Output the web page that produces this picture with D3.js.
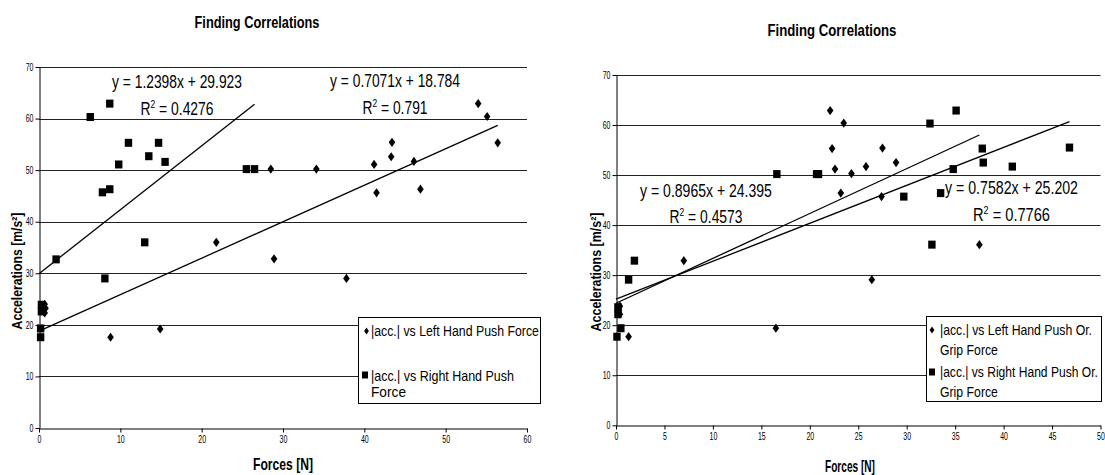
<!DOCTYPE html>
<html><head><meta charset="utf-8">
<script src="https://cdn.jsdelivr.net/npm/d3@7"></script>
<style>
body{margin:0;background:#fff}
text{font-family:"Liberation Sans",Arial,sans-serif;fill:#000}
</style>
</head><body>
<svg id="c" width="1105" height="475"></svg>
<script>
// ---------- data ----------
const chartTitle = "Finding Correlations";
const xAxisTitle = "Forces [N]";
const yAxisTitle = "Accelerations [m/s²]";
const yTicks = [0,10,20,30,40,50,60,70];
const c1XTicks = [0,10,20,30,40,50,60];
const c2XTicks = [0,5,10,15,20,25,30,35,40,45,50];

// chart 1: left hand (diamonds), right hand (squares)
const c1LeftF  = [28.5,34.1,28.9,21.8,37.8,41.2,41.5,43.4,43.3,46.1,46.9,54.0,55.1,56.4,8.8,14.9,0.7,0.8,0.7,0.5];
const c1LeftA  = [50.2,50.2,32.8,36.0,29.0,51.1,45.6,55.4,52.6,51.7,46.3,62.9,60.4,55.3,17.6,19.2,24.0,23.2,22.3,23.5];
const c1RightF = [2.1,6.3,8.7,7.8,8.7,9.8,11.0,13.5,14.7,15.5,13.0,8.1,25.5,26.5,0.2,0.2,0.3,0.3];
const c1RightA = [32.7,60.3,62.9,45.7,46.3,51.1,55.3,52.7,55.3,51.6,36.0,29.0,50.2,50.2,19.3,17.6,23.9,22.6];
const c1Slopes = [0.7071, 1.2398];
const c1Intercepts = [18.784, 29.923];
const c1R2 = ["0.791", "0.4276"];
const c1LegendLines = [["|acc.| vs Left Hand Push Force"], ["|acc.| vs Right Hand Push", "Force"]];

// chart 2: left hand push or grip (diamonds), right hand push or grip (squares)
const c2LeftF  = [7.0,22.1,23.5,22.3,22.6,24.3,23.2,25.8,27.5,28.9,27.4,26.4,37.5,1.3,16.5,0.4,0.4,0.3];
const c2LeftA  = [32.9,62.9,60.4,55.3,51.2,50.3,46.4,51.7,55.4,52.5,45.7,29.1,36.1,17.7,19.4,23.8,22.2,23.0];
const c2RightF = [1.3,1.9,16.6,20.7,20.9,32.4,35.1,37.8,37.9,40.9,34.8,46.8,29.7,33.5,32.6,0.1,0.5,0.2,0.2];
const c2RightA = [29.1,32.9,50.2,50.2,50.2,60.3,62.9,55.3,52.5,51.7,51.2,55.5,45.7,46.4,36.1,17.7,19.4,23.6,22.2];
const c2Slopes = [0.8965, 0.7582];
const c2Intercepts = [24.395, 25.202];
const c2R2 = ["0.4573", "0.7766"];
const c2LegendLines = [["|acc.| vs Left Hand Push Or.", "Grip Force"], ["|acc.| vs Right Hand Push Or.", "Grip Force"]];

// ---------- drawing ----------
const svg = d3.select("#c");
const diamondPath = "M0,-4.6L3.3,0L0,4.6L-3.3,0Z";
const legDiamond = "M0,-3.6L2.4,0L0,3.6L-2.4,0Z";

// place a text squeezed horizontally to a target width
function squeezed(parent, x, y, str, opts) {
  const g = parent.append("g").attr("transform", `translate(${x},${y})`);
  const t = g.append("text").attr("text-anchor", opts.anchor || "middle")
    .style("font-size", opts.size + "px").style("font-weight", opts.bold ? "bold" : "normal");
  if (opts.build) opts.build(t); else t.text(str);
  const w = t.node().getBBox().width;
  const k = opts.width ? opts.width / w : (opts.k || 1);
  g.attr("transform", `translate(${x},${y})${opts.rotate ? " rotate(" + opts.rotate + ")" : ""} scale(${k},1)`);
  return g;
}

function drawChart(cfg) {
  const x = d3.scaleLinear().domain([0, cfg.xMax]).range([cfg.x0, cfg.x1]);
  const y = d3.scaleLinear().domain([0, 70]).range([cfg.y0, cfg.y1]);
  const g = svg.append("g");

  // gridlines
  g.append("g").selectAll("line").data(yTicks.filter(d => d > 0)).join("line")
    .attr("x1", x(0)).attr("x2", x(cfg.xMax))
    .attr("y1", d => Math.round(y(d)) + 0.5).attr("y2", d => Math.round(y(d)) + 0.5)
    .attr("stroke", "#222").attr("stroke-width", 1);

  // axes
  const ay = g.append("g").attr("transform", `translate(${Math.round(x(0)) + 0.5},0)`)
    .call(d3.axisLeft(y).tickValues(yTicks).tickSize(4).tickSizeOuter(0).tickPadding(2));
  const ax = g.append("g").attr("transform", `translate(0,${Math.round(y(0)) + 0.5})`)
    .call(d3.axisBottom(x).tickValues(cfg.xTicks).tickSize(4).tickSizeOuter(0).tickPadding(cfg.xTickPad));
  [ay, ax].forEach(a => {
    a.select(".domain").attr("stroke", "#000");
    a.selectAll(".tick line").attr("stroke", "#000");
    a.selectAll("text").style("font-size", "10px").style("font-family", '"Liberation Sans",Arial,sans-serif').attr("fill", "#222");
  });
  ay.selectAll(".tick text").each(function () {
    const t = d3.select(this); const tx = +t.attr("x");
    t.attr("x", 0).attr("transform", `translate(${tx},0) scale(0.7,1)`);
  });
  ax.selectAll(".tick text").attr("transform", "scale(0.7,1)");

  // trendlines
  cfg.series.forEach((s, i) => {
    const xm = d3.max(s.f);
    g.append("line").attr("x1", x(0)).attr("y1", y(cfg.intercepts[i]))
      .attr("x2", x(xm)).attr("y2", y(cfg.slopes[i] * xm + cfg.intercepts[i]))
      .attr("stroke", "#000").attr("stroke-width", 1.3);
  });

  // points
  cfg.series.forEach((s, i) => {
    const pts = s.f.map((f, j) => [f, s.a[j]]);
    if (i === 0) {
      g.append("g").selectAll("path").data(pts).join("path").attr("d", diamondPath)
        .attr("transform", d => `translate(${x(d[0])},${y(d[1])})`).attr("fill", "#000");
    } else {
      g.append("g").selectAll("rect").data(pts).join("rect")
        .attr("x", d => x(d[0]) - 3.7).attr("y", d => y(d[1]) - 4).attr("width", 7.4).attr("height", 8)
        .attr("fill", "#000");
    }
  });

  // equation labels
  cfg.eqPos.forEach((p, i) => {
    squeezed(g, p.cx, p.y1, `y = ${cfg.slopes[i]}x + ${cfg.intercepts[i]}`, {size: 18, width: p.w1});
    squeezed(g, p.cx, p.y2, null, {size: 18, width: p.w2, build: t => {
      t.append("tspan").text("R");
      t.append("tspan").attr("dy", -7).style("font-size", "11px").text("2");
      t.append("tspan").attr("dy", 7).text(" = " + cfg.r2[i]);
    }});
  });

  // legend
  const L = cfg.legend;
  g.append("rect").attr("x", L.x + 0.5).attr("y", L.y + 0.5).attr("width", L.w).attr("height", L.h)
    .attr("fill", "#fff").attr("stroke", "#000").attr("stroke-width", 1);
  cfg.legendLines.forEach((lines, i) => {
    const it = L.items[i];
    if (i === 0) g.append("path").attr("d", legDiamond).attr("transform", `translate(${it.mx},${it.my})`).attr("fill", "#000");
    else g.append("rect").attr("x", it.mx - 3).attr("y", it.my - 3.5).attr("width", 6).attr("height", 7).attr("fill", "#000");
    lines.forEach((ln, j) => {
      squeezed(g, L.tx, it.base[j], ln, {size: 15, anchor: "start", width: it.w[j]});
    });
  });

  // titles
  squeezed(g, cfg.title.x, cfg.title.y, chartTitle, {size: 17, bold: true, width: cfg.title.w});
  squeezed(g, cfg.xt.x, cfg.xt.y, xAxisTitle, {size: 16, bold: true, width: cfg.xt.w});
  squeezed(g, cfg.yt.x, cfg.yt.y, yAxisTitle, {size: 15, bold: true, width: cfg.yt.w, rotate: -90});
}

drawChart({
  x0: 39, x1: 527, y0: 428, y1: 67, xMax: 60, xTicks: c1XTicks, xTickPad: 3,
  series: [{f: c1LeftF, a: c1LeftA}, {f: c1RightF, a: c1RightA}],
  slopes: c1Slopes, intercepts: c1Intercepts, r2: c1R2,
  eqPos: [{cx: 395, y1: 87, w1: 130, y2: 114, w2: 65}, {cx: 177, y1: 88, w1: 130, y2: 115, w2: 73}],
  legend: {x: 358, y: 317, w: 182, h: 86, tx: 371,
    items: [{mx: 366.5, my: 331, base: [336], w: [168]}, {mx: 365, my: 375, base: [380.5, 397], w: [143, 35]}]},
  legendLines: c1LegendLines,
  title: {x: 257, y: 28, w: 125},
  xt: {x: 283, y: 470, w: 60},
  yt: {x: 22, y: 271, w: 117}
});

drawChart({
  x0: 616, x1: 1100.5, y0: 425.3, y1: 75, xMax: 50, xTicks: c2XTicks, xTickPad: 3,
  series: [{f: c2LeftF, a: c2LeftA}, {f: c2RightF, a: c2RightA}],
  slopes: c2Slopes, intercepts: c2Intercepts, r2: c2R2,
  eqPos: [{cx: 706, y1: 197, w1: 132, y2: 222.5, w2: 73}, {cx: 1011.5, y1: 194, w1: 133, y2: 221, w2: 77}],
  legend: {x: 926, y: 316, w: 175, h: 85, tx: 940,
    items: [{mx: 932, my: 330, base: [335, 355], w: [152, 58]}, {mx: 932, my: 372, base: [377, 396.5], w: [158, 58]}]},
  legendLines: c2LegendLines,
  title: {x: 832, y: 36, w: 129},
  xt: {x: 850, y: 472, w: 50},
  yt: {x: 601, y: 272, w: 119}
});
</script>
</body></html>
